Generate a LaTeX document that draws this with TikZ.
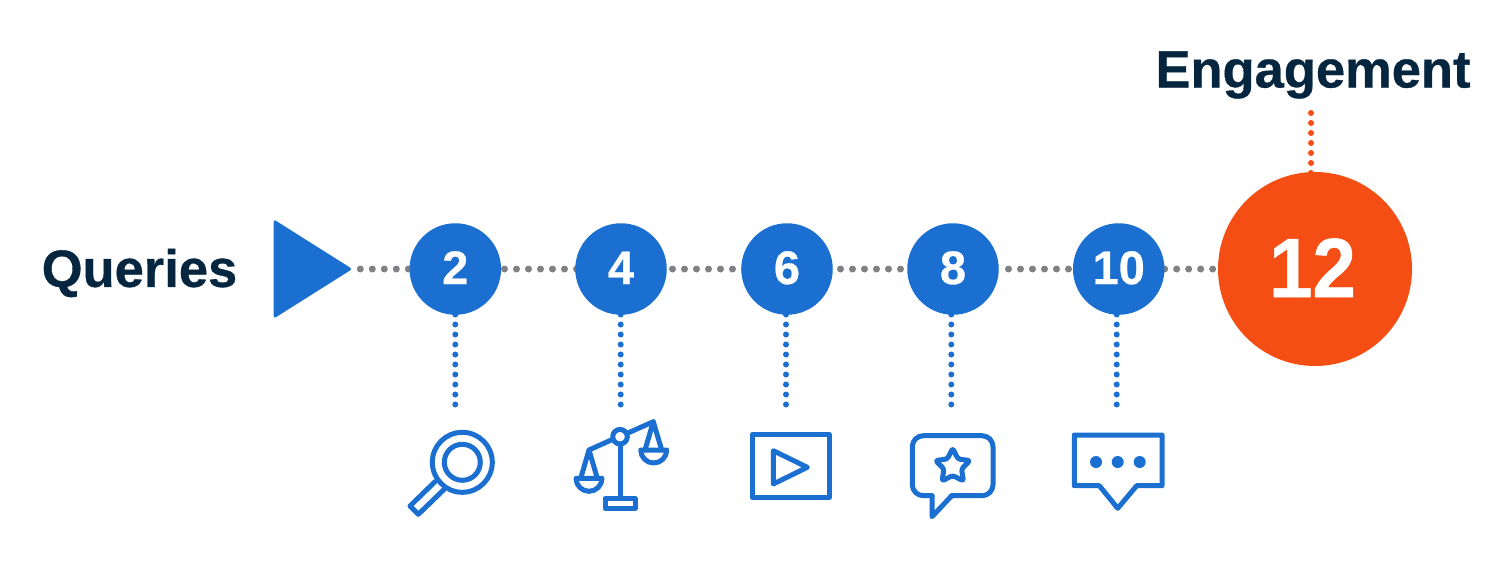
\documentclass[tikz,border=0pt]{standalone}
\usepackage{fontspec}
\setmainfont[BoldFeatures={FakeBold=0.6}]{Liberation Sans}
\newfontfamily\bignum[FakeStretch=0.93,FakeBold=0.6]{Liberation Sans Bold}
\usetikzlibrary{backgrounds}
\definecolor{qblue}{HTML}{1A6FD0}
\definecolor{qorange}{HTML}{F54E14}
\definecolor{qnavy}{HTML}{06263F}
\definecolor{qgray}{HTML}{808085}
\tikzset{
  numdot/.style={circle,fill=qblue,draw=none,minimum size=91.5pt,inner sep=0pt,text=white,text height=34pt,text depth=4pt,font=\fontsize{47}{47}\selectfont\bfseries},
  bigdot/.style={circle,fill=qorange,draw=none,minimum size=194pt,inner sep=0pt,text=white,text height=59pt,text depth=3pt,font=\fontsize{84}{84}\bignum\selectfont},
  headlabel/.style={text=qnavy,inner sep=0pt,font=\fontsize{52.5}{52.5}\selectfont\bfseries},
  grayline/.style={draw=qgray,line width=7pt,line cap=round,dash pattern=on 0pt off 12pt},
  blueline/.style={draw=qblue,line width=6pt,line cap=round,dash pattern=on 0pt off 10pt},
  orangeline/.style={draw=qorange,line width=6pt,line cap=round,dash pattern=on 0pt off 10pt},
  icon/.style={draw=qblue,line width=5pt,line join=round,line cap=round},
}
\begin{document}
\begin{tikzpicture}[x=1pt,y=-1pt]
\useasboundingbox (0,0) rectangle (1509,584);
\node[headlabel,anchor=center] (queries) at (139.5,273) {Queries};
\node[headlabel,anchor=center] (engagement) at (1313,75) {Engagement};
\draw[fill=qblue,draw=qblue,line width=3pt,line join=round] (275,222) -- (275,316) -- (349.5,269) -- cycle;
\coordinate (tip) at (351,269);
\node[numdot] (n2) at (455.3,269) {2};
\node[numdot] (n4) at (621,269) {4};
\node[numdot] (n6) at (787,269) {6};
\node[numdot] (n8) at (953,269) {8};
\node[numdot] (n10) at (1118.7,269) {10};
\node[bigdot] (n12) at (1315,269) {12\kern5pt};
\begin{pgfonlayer}{background}
\draw[grayline,shorten <=9.3pt] (tip) -- (n2.center);
\draw[grayline,shorten <=3.25pt] (n2.east) -- (n4.center);
\draw[grayline,shorten <=5.55pt] (n4.east) -- (n6.center);
\draw[grayline,shorten <=7.55pt] (n6.east) -- (n8.center);
\draw[grayline,shorten <=9.55pt] (n8.east) -- (n10.center);
\draw[grayline] (n10.east) -- (n12.center);
\end{pgfonlayer}
\coordinate (b2) at (455.3,404.5);
\coordinate (b4) at (620.7,404.5);
\coordinate (b6) at (786,404.5);
\coordinate (b8) at (951.3,404.5);
\coordinate (b10) at (1116.7,404.5);
\coordinate (o12) at (1311,113);
\foreach \a/\b in {b2/n2,b4/n4,b6/n6,b8/n8,b10/n10}{
  \begin{pgfonlayer}{background}
  \draw[blueline] (\a) -- (\a |- \b.center);
  \end{pgfonlayer}
}
\begin{pgfonlayer}{background}
\draw[orangeline] (o12) -- (o12 |- n12.center);
\end{pgfonlayer}
% magnifier
\draw[icon] (462.3,462.3) circle (30);
\draw[icon] (462.3,462.3) circle (18);
\draw[icon] (435,481.7) -- (410,506) -- (418.3,514.3) -- (444,489.5);
% scales
\draw[icon] (620,436.7) circle (7.3);
\draw[icon] (589,450) -- (612.7,439.3);
\draw[icon] (627.3,433.3) -- (653.3,421.7);
\draw[icon] (620,444) -- (620,498.3);
\draw[icon] (605,498.3) rectangle (635,508.3);
\draw[icon] (580.7,478.3) -- (589,450) -- (597.3,478.3);
\draw[icon] (576,478.3) -- (602,478.3) arc[start angle=0,end angle=180,x radius=13,y radius=13] -- cycle;
\draw[icon] (645,450) -- (653.3,421.7) -- (661.7,450);
\draw[icon] (640.7,450) -- (666.7,450) arc[start angle=0,end angle=180,x radius=13,y radius=13] -- cycle;
% play
\draw[icon] (752.3,434.3) rectangle (829,497.7);
\draw[icon] (773.3,450.7) -- (807.3,467.3) -- (773.3,484) -- cycle;
% star bubble
\draw[icon,rounded corners=11pt] (932,495.7) -- (912.3,495.7) -- (912.3,435.7) -- (993,435.7) -- (993,495.7) -- (951.7,495.7);
\draw[icon] (932,495.7) -- (932,516.7) -- (951.7,495.7);
\draw[icon,rounded corners=2.5pt] (952.7,448.3) -- (958,459) -- (970,460.5) -- (961.5,469) -- (963.5,481) -- (952.7,475.5) -- (942,481) -- (944,469) -- (935.5,460.5) -- (947.4,459) -- cycle;
% dots bubble
\draw[icon] (1074.3,435) -- (1162,435) -- (1162,485.7) -- (1136.7,485.7) -- (1117.7,508.3) -- (1099.3,485.7) -- (1074.3,485.7) -- cycle;
\fill[qblue] (1096,462) circle (6) (1117.7,462) circle (6) (1139.7,462) circle (6);
\end{tikzpicture}
\end{document}
